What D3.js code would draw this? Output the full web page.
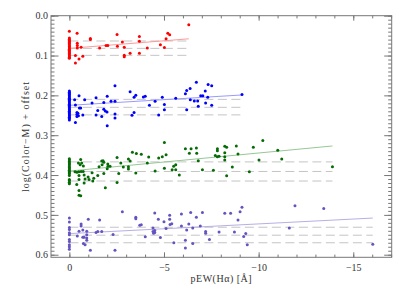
<!DOCTYPE html>
<html>
<head>
<meta charset="utf-8">
<script src="https://cdn.jsdelivr.net/npm/d3@7"></script>
<style>
  html, body { margin: 0; padding: 0; background: #fff; }
  svg { display: block; }
  .tick text { font-family: "Liberation Serif", serif; font-size: 10px; fill: #333; }
</style>
</head>
<body>
<div id="chart"></div>
<script>
// tick labels
const xTicks = [0, -5, -10, -15];
const yTicks = [0.0, 0.1, 0.2, 0.3, 0.4, 0.5, 0.6];

// [pEW, log(Color-M) + offset] per group
const redPoints = [
  [0, 0.039], [0, 0.056], [0, 0.059], [0, 0.062], [0, 0.065], [0, 0.067], [0, 0.070], [0, 0.073],
  [0, 0.076], [0, 0.078], [0, 0.081], [0, 0.084], [0, 0.087], [0, 0.090], [0, 0.093], [0, 0.095],
  [0, 0.098], [0, 0.101], [0, 0.104], [0, 0.107],
  [-0.41, 0.044], [-0.42, 0.069], [-0.42, 0.075], [-0.42, 0.081], [-0.62, 0.079], [-0.32, 0.100],
  [-0.51, 0.109], [-0.32, 0.119], [-0.71, 0.102], [-1.11, 0.057], [-1.11, 0.060], [-1.6, 0.081],
  [-1.94, 0.075], [-2.03, 0.075], [-2.52, 0.047], [-2.54, 0.077], [-2.8, 0.066], [-2.9, 0.079],
  [-2.9, 0.099], [-2.9, 0.103], [-3.21, 0.094], [-3.7, 0.052], [-3.7, 0.064], [-3.7, 0.094],
  [-4.12, 0.081], [-4.81, 0.073], [-5.02, 0.080], [-5.11, 0.058], [-5.2, 0.044], [-5.3, 0.048],
  [-6.31, 0.023]
];
const bluePoints = [
  [0, 0.189], [0, 0.192], [0, 0.195], [0, 0.198], [0, 0.201], [0, 0.204], [0, 0.207], [0, 0.210],
  [0, 0.213], [0, 0.216], [0, 0.219], [0, 0.222], [0, 0.225], [0, 0.228], [0, 0.231], [0, 0.234],
  [0, 0.237], [0, 0.240], [0, 0.243], [0, 0.246], [0, 0.249], [0, 0.252], [0, 0.255], [0, 0.258],
  [0, 0.262],
  [-0.28, 0.211], [-0.32, 0.224], [-0.51, 0.201], [-0.53, 0.232], [-0.6, 0.232], [-0.4, 0.243],
  [-0.4, 0.248], [-0.45, 0.245], [-0.4, 0.253], [-0.48, 0.251], [-0.32, 0.268], [-0.71, 0.249],
  [-0.81, 0.211], [-1.2, 0.219], [-1.41, 0.206], [-1.41, 0.249], [-1.5, 0.238], [-1.71, 0.253],
  [-1.82, 0.218], [-1.82, 0.235], [-1.9, 0.239], [-1.99, 0.242], [-2.0, 0.202], [-2.0, 0.276],
  [-2.2, 0.215], [-2.41, 0.215], [-2.41, 0.176], [-2.41, 0.247], [-2.41, 0.257], [-3.21, 0.191],
  [-3.42, 0.205], [-3.51, 0.200], [-3.31, 0.250], [-3.42, 0.243], [-3.91, 0.204], [-4.01, 0.202],
  [-4.23, 0.225], [-4.53, 0.215], [-4.72, 0.249], [-4.91, 0.205], [-5.02, 0.223], [-5.02, 0.236],
  [-5.62, 0.207], [-6.13, 0.196], [-6.2, 0.188], [-6.38, 0.183], [-6.2, 0.236], [-6.39, 0.211],
  [-6.71, 0.167], [-6.6, 0.214], [-6.78, 0.214], [-6.81, 0.227], [-6.94, 0.201], [-7.05, 0.201],
  [-7.18, 0.189], [-7.33, 0.173], [-7.52, 0.176], [-7.2, 0.219], [-7.52, 0.225], [-7.31, 0.205],
  [-9.12, 0.198]
];
const greenPoints = [
  [0, 0.359], [0, 0.362], [0, 0.366], [0, 0.369], [0, 0.372], [0, 0.375], [0, 0.379], [0, 0.382],
  [0, 0.385], [0, 0.388], [0, 0.391], [0, 0.394], [0, 0.397], [0, 0.401], [0, 0.411], [0, 0.414],
  [0, 0.418], [0, 0.422],
  [-0.48, 0.370], [-0.57, 0.374], [-0.65, 0.370], [-0.74, 0.377], [-0.6, 0.361], [-0.3, 0.392],
  [-0.4, 0.393], [-0.5, 0.392], [-0.62, 0.391], [-0.73, 0.391], [-0.51, 0.401], [-0.51, 0.411],
  [-0.78, 0.400], [-0.83, 0.410], [-0.39, 0.424], [-0.78, 0.420], [-0.51, 0.439], [-0.51, 0.451],
  [-0.6, 0.452], [-0.99, 0.405], [-1.04, 0.411], [-1.24, 0.415], [-1.29, 0.408], [-1.2, 0.394],
  [-1.5, 0.401], [-1.57, 0.379], [-1.71, 0.365], [-1.78, 0.364], [-1.82, 0.368], [-1.73, 0.374],
  [-1.82, 0.396], [-1.9, 0.432], [-2.0, 0.384], [-2.04, 0.378], [-2.15, 0.378], [-2.03, 0.372],
  [-2.52, 0.356], [-2.52, 0.419], [-2.61, 0.396], [-2.72, 0.370], [-2.85, 0.380], [-3.12, 0.360],
  [-3.21, 0.365], [-3.12, 0.379], [-3.12, 0.385], [-3.33, 0.343], [-3.54, 0.346], [-3.51, 0.395],
  [-3.8, 0.348], [-4.12, 0.370], [-4.19, 0.355], [-4.53, 0.390], [-4.72, 0.357], [-4.91, 0.354],
  [-5.11, 0.349], [-5.02, 0.318], [-5.02, 0.383], [-5.43, 0.387], [-5.51, 0.378], [-5.62, 0.374],
  [-5.62, 0.387], [-5.81, 0.400], [-6.13, 0.334], [-6.34, 0.345], [-6.43, 0.334], [-6.71, 0.332],
  [-6.73, 0.345], [-6.81, 0.364], [-7.03, 0.387], [-7.61, 0.388], [-7.71, 0.351], [-7.82, 0.354],
  [-7.91, 0.353], [-7.82, 0.334], [-7.82, 0.339], [-8.21, 0.328], [-8.31, 0.330], [-8.21, 0.344],
  [-8.21, 0.354], [-8.21, 0.362], [-8.31, 0.402], [-8.61, 0.380], [-8.82, 0.327], [-8.91, 0.347],
  [-9.51, 0.392], [-9.72, 0.330], [-10.02, 0.362], [-10.22, 0.313], [-11.01, 0.338], [-11.22, 0.360],
  [-13.9, 0.379]
];
const purplePoints = [
  [0, 0.508], [0, 0.518], [0, 0.532], [0, 0.537], [0, 0.545], [0, 0.550], [0, 0.562], [0, 0.567],
  [0, 0.575], [0, 0.580], [0, 0.586],
  [-0.51, 0.541], [-0.62, 0.523], [-0.62, 0.528], [-0.71, 0.538], [-0.42, 0.553], [-0.71, 0.556],
  [-0.78, 0.556], [-0.92, 0.541], [-0.92, 0.550], [-0.92, 0.558], [-0.92, 0.564], [-0.74, 0.572],
  [-0.83, 0.575], [-1.0, 0.511], [-1.11, 0.589], [-1.41, 0.544], [-1.5, 0.542], [-1.71, 0.542],
  [-1.6, 0.513], [-2.31, 0.549], [-2.41, 0.589], [-2.8, 0.492], [-3.51, 0.506], [-3.51, 0.510],
  [-3.72, 0.526], [-3.8, 0.525], [-4.01, 0.555], [-4.42, 0.533], [-4.42, 0.542], [-4.51, 0.544],
  [-4.51, 0.539], [-4.45, 0.546], [-4.51, 0.495], [-4.7, 0.511], [-4.81, 0.557], [-5.0, 0.517],
  [-5.11, 0.534], [-5.3, 0.501], [-5.3, 0.511], [-5.32, 0.524], [-5.41, 0.522], [-5.52, 0.570],
  [-5.92, 0.498], [-5.92, 0.528], [-6.13, 0.564], [-6.13, 0.583], [-6.2, 0.538], [-6.31, 0.523],
  [-6.41, 0.494], [-6.52, 0.533], [-6.52, 0.572], [-6.71, 0.506], [-6.92, 0.528], [-7.03, 0.494],
  [-7.2, 0.542], [-7.2, 0.546], [-7.4, 0.562], [-7.91, 0.543], [-8.21, 0.496], [-8.52, 0.496],
  [-8.72, 0.543], [-8.91, 0.513], [-9.02, 0.492], [-9.12, 0.481], [-9.21, 0.554], [-9.32, 0.547],
  [-9.4, 0.575], [-11.62, 0.533], [-11.92, 0.477], [-13.44, 0.484], [-16.03, 0.574]
];

// linear fits: value at pEW = 0 and at the group's most negative pEW
const fitRed = [0.082, 0.058];
const fitBlue = [0.225, 0.199];
const fitGreen = [0.390, 0.327];
const fitPurple = [0.547, 0.508];

// dashed reference levels
const levelsRed = [0.0635, 0.082, 0.0995];
const levelsBlue = [0.210, 0.230, 0.249];
const levelsGreen = [0.367, 0.391, 0.415];
const levelsPurple = [0.531, 0.551, 0.570];

const groups = [
  { points: redPoints, fit: fitRed, levels: levelsRed, color: '#ff0000', line: '#ff9a9a' },
  { points: bluePoints, fit: fitBlue, levels: levelsBlue, color: '#0000ff', line: '#9a9aff' },
  { points: greenPoints, fit: fitGreen, levels: levelsGreen, color: '#056b05', line: '#96c896' },
  { points: purplePoints, fit: fitPurple, levels: levelsPurple, color: '#6553c0', line: '#b8aee6' }
];

const totalWidth = 407;
const totalHeight = 291;
const margin = { top: 15.7, right: 15.3, bottom: 33.7, left: 51 };
const width = totalWidth - margin.left - margin.right;
const height = totalHeight - margin.top - margin.bottom;

const svg = d3.select('#chart')
  .append('svg')
  .attr('width', totalWidth)
  .attr('height', totalHeight)
  .append('g')
  .attr('transform', `translate(${margin.left},${margin.top})`);

const x = d3.scaleLinear().domain([0.97, -17.03]).range([0, width]);
const y = d3.scaleLinear().domain([0, 0.6065]).range([0, height]);

// dashed levels and fits first, points on top
groups.forEach(g => {
  const xEnd = d3.min(g.points, d => d[0]);

  svg.append('g')
    .selectAll('line')
    .data(g.levels)
    .enter()
    .append('line')
    .attr('x1', x(0))
    .attr('x2', x(xEnd))
    .attr('y1', d => y(d))
    .attr('y2', d => y(d))
    .attr('stroke', '#c4c4c4')
    .attr('stroke-width', 1)
    .attr('stroke-dasharray', '9,4.5');

  svg.append('line')
    .attr('x1', x(0))
    .attr('x2', x(xEnd))
    .attr('y1', y(g.fit[0]))
    .attr('y2', y(g.fit[1]))
    .attr('stroke', g.line)
    .attr('stroke-width', 1);

  svg.append('g')
    .selectAll('circle')
    .data(g.points)
    .enter()
    .append('circle')
    .attr('cx', d => x(d[0]))
    .attr('cy', d => y(d[1]))
    .attr('r', 1.5)
    .attr('fill', g.color);
});

// frame
svg.append('rect')
  .attr('width', width)
  .attr('height', height)
  .attr('fill', 'none')
  .attr('stroke', '#777')
  .attr('stroke-width', 1);

const xMinor = d3.range(0, -18, -1);
const yMinor = d3.range(0, 61).map(i => i / 100);

const styleAxis = sel => {
  sel.select('.domain').remove();
  sel.selectAll('.tick line').attr('stroke', '#777');
};

// x axis, bottom with labels
svg.append('g')
  .attr('transform', `translate(0,${height})`)
  .call(d3.axisBottom(x).tickValues(xMinor).tickSize(-2.7).tickFormat(''))
  .call(styleAxis);
svg.append('g')
  .attr('transform', `translate(0,${height})`)
  .call(d3.axisBottom(x).tickValues(xTicks).tickSize(-5).tickPadding(7).tickFormat(d3.format('d')))
  .call(styleAxis);
// x axis, top
svg.append('g')
  .call(d3.axisTop(x).tickValues(xMinor).tickSize(-2.7).tickFormat(''))
  .call(styleAxis);
svg.append('g')
  .call(d3.axisTop(x).tickValues(xTicks).tickSize(-5).tickFormat(''))
  .call(styleAxis);

// y axis, left with labels
svg.append('g')
  .call(d3.axisLeft(y).tickValues(yMinor).tickSize(-3.5).tickFormat(''))
  .call(styleAxis);
svg.append('g')
  .call(d3.axisLeft(y).tickValues(yTicks).tickSize(-7.5).tickPadding(3).tickFormat(d3.format('.1f')))
  .call(styleAxis);
// y axis, right
svg.append('g')
  .attr('transform', `translate(${width},0)`)
  .call(d3.axisRight(y).tickValues(yMinor).tickSize(-3.5).tickFormat(''))
  .call(styleAxis);
svg.append('g')
  .attr('transform', `translate(${width},0)`)
  .call(d3.axisRight(y).tickValues(yTicks).tickSize(-7.5).tickFormat(''))
  .call(styleAxis);

// axis titles
svg.append('text')
  .attr('x', width / 2)
  .attr('y', 282.5 - margin.top)
  .attr('text-anchor', 'middle')
  .attr('font-family', '"Liberation Serif", serif')
  .attr('font-size', 10)
  .attr('letter-spacing', 0.5)
  .attr('fill', '#333')
  .text('pEW(Hα) [Å]');

svg.append('text')
  .attr('transform', `translate(${25 - margin.left},${height / 2}) rotate(-90)`)
  .attr('text-anchor', 'middle')
  .attr('dy', '0.35em')
  .attr('font-family', '"Liberation Serif", serif')
  .attr('font-size', 10)
  .attr('letter-spacing', 1)
  .attr('fill', '#333')
  .text('log(Color−M) + offset');
</script>
</body>
</html>
